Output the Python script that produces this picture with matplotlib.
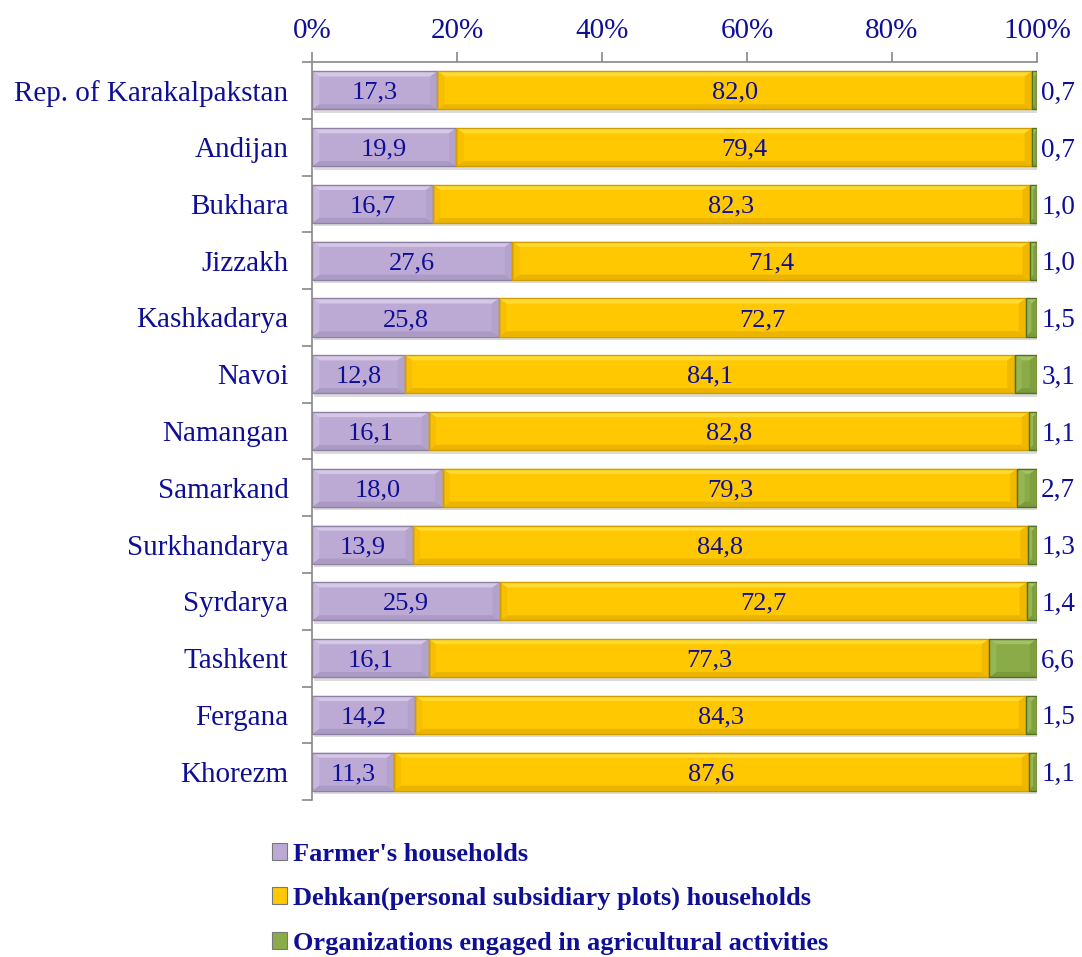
import matplotlib.pyplot as plt
import matplotlib.patheffects as pe
from matplotlib.patches import Polygon
import numpy as np

regions = ["Rep. of Karakalpakstan", "Andijan", "Bukhara", "Jizzakh", "Kashkadarya",
           "Navoi", "Namangan", "Samarkand", "Surkhandarya", "Syrdarya", "Tashkent",
           "Fergana", "Khorezm"]
farmers = [17.3, 19.9, 16.7, 27.6, 25.8, 12.8, 16.1, 18.0, 13.9, 25.9, 16.1, 14.2, 11.3]
dehkan = [82.0, 79.4, 82.3, 71.4, 72.7, 84.1, 82.8, 79.3, 84.8, 72.7, 77.3, 84.3, 87.6]
organizations = [0.7, 0.7, 1.0, 1.0, 1.5, 3.1, 1.1, 2.7, 1.3, 1.4, 6.6, 1.5, 1.1]

series_names = ["Farmer's households",
                "Dehkan(personal subsidiary plots) households",
                "Organizations engaged in agricultural activities"]

TEXT = "#0f0f96"
FACES = ["#bcaad4", "#ffc800", "#8aab48"]
EDGES = ["#8f80a6", "#cf9e00", "#556f26"]
# bevel colours: top, bottom, left, right
BEVELS = [["#d4c8e6", "#ab9bc4", "#c7b8dd", "#b3a3cb"],
          ["#ffda30", "#eab400", "#f8bf00", "#f0b800"],
          ["#a2c264", "#7a9a3c", "#94b654", "#80a040"]]


def fmt(v):
    return f"{v:.1f}".replace(".", ",")


def add_bevel(ax, bar, colors):
    x0, y0 = bar.get_x(), bar.get_y()
    x1, y1 = x0 + bar.get_width(), y0 + bar.get_height()
    bx = min(1.0, bar.get_width() / 2)
    by = 0.09
    # y axis is inverted, so y0 is the top edge
    bands = [
        [(x0, y0), (x1, y0), (x1 - bx, y0 + by), (x0 + bx, y0 + by)],
        [(x0, y1), (x1, y1), (x1 - bx, y1 - by), (x0 + bx, y1 - by)],
        [(x0, y0), (x0 + bx, y0 + by), (x0 + bx, y1 - by), (x0, y1)],
        [(x1, y0), (x1 - bx, y0 + by), (x1 - bx, y1 - by), (x1, y1)],
    ]
    for pts, c in zip(bands, colors):
        ax.add_patch(Polygon(pts, closed=True, facecolor=c, edgecolor="none", zorder=2.1))


def main():
    plt.rcParams["font.family"] = ["Liberation Serif", "DejaVu Serif"]

    fig = plt.figure(figsize=(10.82, 9.57), dpi=100)
    ax = fig.add_axes([0.2884, 0.164, 0.67, 0.7712])

    y = np.arange(len(regions))
    data = [np.array(farmers), np.array(dehkan), np.array(organizations)]
    totals = data[0] + data[1] + data[2]
    left = np.zeros(len(regions))
    shadow = [pe.withSimplePatchShadow(offset=(1.5, -2.5), shadow_rgbFace="#999999", alpha=0.35)]

    for i, values in enumerate(data):
        share = values / totals * 100
        bars = ax.barh(y, share, left=left, height=0.67, color=FACES[i], edgecolor="none",
                       label=series_names[i], path_effects=shadow)
        for bar in bars:
            add_bevel(ax, bar, BEVELS[i])
            ax.add_patch(plt.Rectangle((bar.get_x(), bar.get_y()), bar.get_width(),
                                       bar.get_height(), fill=False, edgecolor=EDGES[i],
                                       linewidth=1.0, zorder=2.2))
        for j in range(len(regions)):
            if i < 2:
                ax.text(left[j] + share[j] / 2, y[j], fmt(values[j]), ha="center",
                        va="center_baseline", fontsize=19, color=TEXT, zorder=3)
            else:
                ax.annotate(fmt(values[j]), (left[j] + share[j], y[j]), xytext=(3, 0),
                            textcoords="offset points", ha="left", va="center_baseline",
                            fontsize=19.5, color=TEXT)
        left = left + share

    ax.set_xlim(0, 100)
    ax.set_ylim(len(regions) - 0.5, -0.5)
    ax.xaxis.tick_top()
    ax.set_xticks(np.arange(0, 101, 20))
    ax.set_xticklabels([f"{t}%" for t in range(0, 101, 20)], fontsize=21, color=TEXT)
    ax.tick_params(axis="x", direction="out", length=7, color="#888888", width=1.2, pad=6)

    ax.set_yticks(y)
    ax.set_yticklabels(regions, fontsize=21, color=TEXT)
    ax.tick_params(axis="y", which="major", length=0, pad=17)
    ax.set_yticks(np.arange(-0.5, len(regions), 1), minor=True)
    ax.tick_params(axis="y", which="minor", length=7, color="#888888", width=1.2)
    for lab in ax.get_yticklabels():
        lab.set_va("center_baseline")

    for side in ["right", "bottom"]:
        ax.spines[side].set_visible(False)
    for side in ["left", "top"]:
        ax.spines[side].set_color("#888888")
        ax.spines[side].set_linewidth(1.2)

    leg = ax.legend(loc="upper left", bbox_to_anchor=(0.229, 0.144),
                    bbox_transform=fig.transFigure, frameon=False, handlelength=0.6,
                    handleheight=0.6, handletextpad=0.2, labelspacing=0.8, labelcolor=TEXT,
                    prop={"family": ["Liberation Serif"], "weight": "bold", "size": 19})
    for h in leg.legend_handles:
        h.set_path_effects([])
        h.set_edgecolor("#777777")
        h.set_linewidth(0.8)

    fig.savefig("out.png", dpi=100)


if __name__ == "__main__":
    main()
